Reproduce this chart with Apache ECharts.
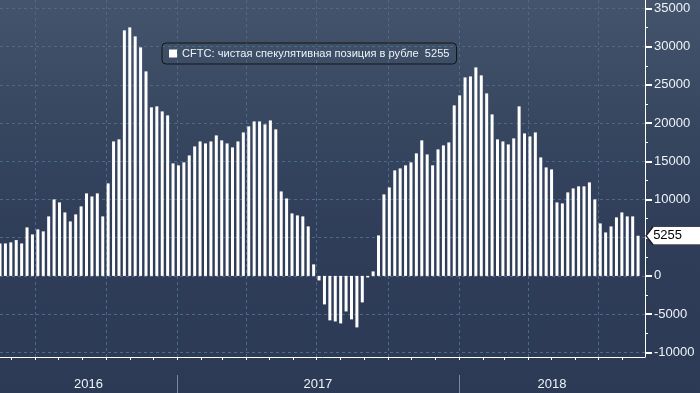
<!DOCTYPE html>
<html><head><meta charset="utf-8">
<script src="https://cdn.jsdelivr.net/npm/echarts@6/dist/echarts.min.js"></script>
<style>html,body{margin:0;padding:0;background:#2c3a55}#c{width:700px;height:393px}</style>
</head><body><div id="c"></div>
<script>
// ---- data ----
const seriesName = 'CFTC: чистая спекулятивная позиция в рубле';
const lastValue = 5255;
const firstReport = [2016, 4, 17]; // first weekly CFTC report shown (Tuesday, 2016-05-17)
const values = [
  4250, 4250, 4390, 4690, 4250, 6350, 5430, 6090, 5830, 7790,
  10010, 9620, 8310, 7130, 8050, 9100, 10800, 10400, 10800, 7790,
  12110, 17600, 17870, 32140, 32530, 31350, 29910, 26770, 22060, 22190,
  21530, 21010, 14730, 14470, 14860, 15770, 16950, 17600, 17340, 17600,
  18390, 17740, 17340, 16820, 17600, 18780, 19570, 20220, 20220, 19830,
  20350, 19180, 11060, 10140, 8180, 7920, 7790, 6480, 1510, -590,
  -3730, -5820, -5960, -6220, -4650, -5690, -6740, -3470, -200, 590,
  5300, 10670, 11580, 13810, 14070, 14470, 14860, 16040, 17740, 15900,
  14470, 16560, 17080, 17470, 22320, 23630, 25980, 26110, 27290, 26250,
  23890, 21140, 17870, 17600, 17210, 18000, 22190, 18650, 18260, 18780,
  15510, 14200, 13940, 9620, 9490, 10930, 11450, 11720, 11720, 12240,
  10010, 6870, 5690, 6480, 7660, 8310, 7790, 7790, 5255
];
const yearLabels = ['2016', '2017', '2018'];
const yMin = -10000, yMax = 35000, yStep = 5000;

// ---- build ----
const DAY = 86400000;
const t0 = Date.UTC(firstReport[0], firstReport[1], firstReport[2]);
const dates = values.map((v, i) => t0 + i * 7 * DAY);
const xMin = t0;
const xMax = t0 + 834.95 * DAY;
const monthTicks = [];
for (let y = 2016; y <= 2018; y++) for (let m = 0; m < 12; m++) {
  const t = Date.UTC(y, m, 1); if (t > xMin && t < xMax) monthTicks.push(t);
}
const quarterTicks = monthTicks.filter(t => new Date(t).getUTCMonth() % 3 === 0);
const yearStarts = [Date.UTC(2017, 0, 1), Date.UTC(2018, 0, 1)];
const bounds = [xMin, ...yearStarts, xMax];
const yearMids = yearLabels.map((_, i) => (bounds[i] + bounds[i + 1]) / 2);

const txt = '#eef3f8';
const gridDash = '#4b6a86';
const xBase = {type: 'value', min: xMin, max: xMax, scale: true, position: 'bottom'};
const chart = echarts.init(document.getElementById('c'));
chart.setOption({
  animation: false,
  backgroundColor: new echarts.graphic.LinearGradient(0, 0, 0, 1, [
    {offset: 0, color: '#44546d'}, {offset: 0.33, color: '#37465f'},
    {offset: 0.6, color: '#2f3d59'}, {offset: 1, color: '#2c3a55'}]),
  textStyle: {fontFamily: 'Liberation Sans'},
  legend: {
    left: 162, top: 43, padding: [5, 7, 5, 7], itemWidth: 8, itemHeight: 8, icon: 'rect',
    borderColor: '#141414', borderWidth: 1, borderRadius: 4,
    textStyle: {color: txt, fontSize: 11.1},
    formatter: n => n + '  ' + lastValue,
    data: [{name: seriesName, itemStyle: {color: '#ffffff'}}]
  },
  grid: [
    {left: 0, right: 55, top: 8.5, bottom: 40.7},
    {left: 0, right: 55, top: 0, bottom: 36}
  ],
  xAxis: [
    Object.assign({}, xBase, {gridIndex: 0, show: false}),
    Object.assign({}, xBase, {gridIndex: 1,
      axisLine: {show: true, lineStyle: {color: '#ffffff', width: 1}},
      axisTick: {show: true, customValues: monthTicks, length: 3, lineStyle: {color: '#ffffff'}},
      axisLabel: {show: false}, splitLine: {show: false}}),
    Object.assign({}, xBase, {gridIndex: 1,
      axisLine: {show: false}, axisTick: {show: false, customValues: quarterTicks},
      axisLabel: {show: false},
      splitLine: {show: true, customValues: quarterTicks, lineStyle: {color: gridDash, type: [3, 3]}}}),
    Object.assign({}, xBase, {gridIndex: 1, offset: 18,
      axisLine: {show: false},
      axisTick: {show: true, customValues: yearStarts, length: 18, lineStyle: {color: 'rgba(190,200,215,0.55)'}},
      axisLabel: {show: true, customValues: yearMids, margin: 3, color: txt, fontSize: 13,
        formatter: v => yearLabels[yearLabels.indexOf(String(new Date(v).getUTCFullYear()))]},
      splitLine: {show: false}})
  ],
  yAxis: [
    {type: 'value', gridIndex: 0, position: 'right', min: yMin, max: yMax, interval: yStep,
      axisLine: {show: true, lineStyle: {color: '#ffffff'}},
      axisTick: {show: true, length: 7, lineStyle: {color: '#ffffff', width: 2}},
      minorTick: {show: true, splitNumber: 2, length: 3, lineStyle: {color: '#ffffff'}},
      axisLabel: {color: txt, fontSize: 13, margin: 9, formatter: v => String(v)},
      splitLine: {show: true, lineStyle: {color: gridDash, type: [3, 3]}}},
    {type: 'value', gridIndex: 1, position: 'right', min: 0, max: 1,
      axisLine: {show: true, lineStyle: {color: '#ffffff'}},
      axisTick: {show: false}, axisLabel: {show: false}, splitLine: {show: false}}
  ],
  series: [{
    name: seriesName, type: 'bar', xAxisIndex: 0, yAxisIndex: 0, barWidth: 3,
    itemStyle: {color: '#ffffff'},
    data: values.map((v, i) => [dates[i], v]),
    markPoint: {
      symbol: 'path://M0,9L7,0L55,0L55,18L7,18Z', symbolSize: [55, 18], symbolKeepAspect: false,
      symbolOffset: [35.5, 0], silent: true,
      itemStyle: {color: '#ffffff', borderColor: '#1a1a1a', borderWidth: 1},
      label: {show: true, position: 'inside', formatter: String(lastValue), color: '#000000', fontSize: 13, offset: [-6, 0]},
      data: [{coord: [dates[dates.length - 1], lastValue]}]
    }
  }]
});
</script></body></html>
